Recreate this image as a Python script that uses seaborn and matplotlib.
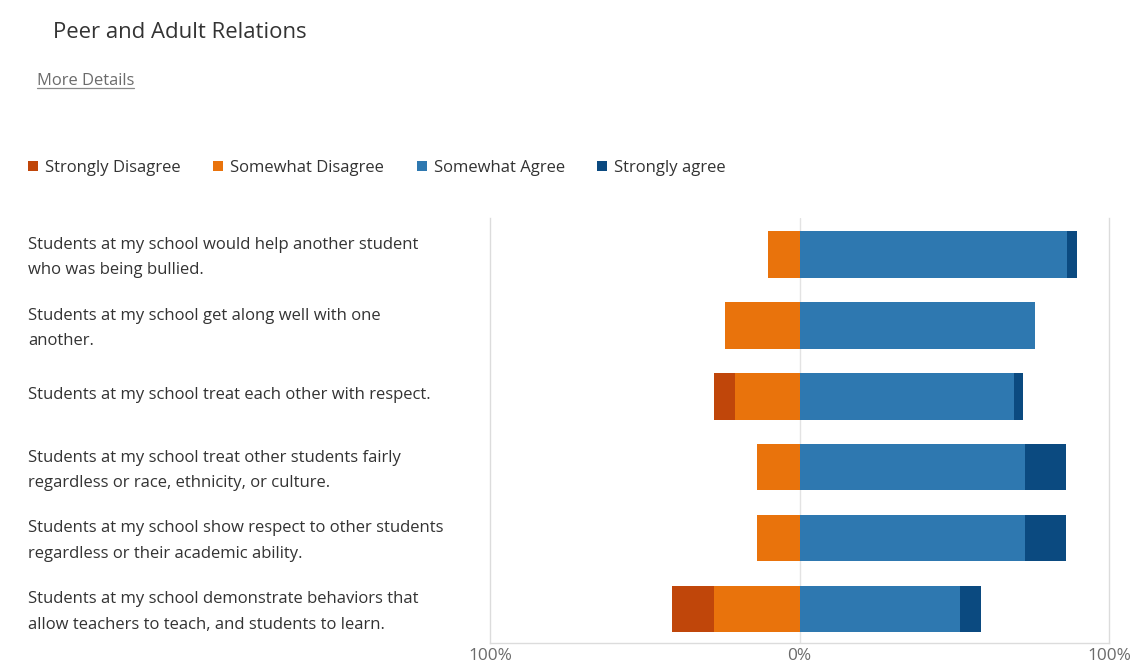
import matplotlib
matplotlib.use("Agg")
import matplotlib.pyplot as plt
import seaborn as sns
import pandas as pd
from matplotlib.patches import Patch
from matplotlib.lines import Line2D
from matplotlib.transforms import ScaledTranslation

# Survey statements (top to bottom)
statements = [
    "Students at my school would help another student\nwho was being bullied.",
    "Students at my school get along well with one\nanother.",
    "Students at my school treat each other with respect.",
    "Students at my school treat other students fairly\nregardless or race, ethnicity, or culture.",
    "Students at my school show respect to other students\nregardless or their academic ability.",
    "Students at my school demonstrate behaviors that\nallow teachers to teach, and students to learn.",
]

# Response shares in percent
strongly_disagree = [0, 0, 6.5, 0, 0, 13.6]
somewhat_disagree = [10.3, 24, 21, 13.7, 13.7, 27.7]
somewhat_agree = [86.5, 76, 69.2, 72.7, 72.7, 51.7]
strongly_agree = [3, 0, 3.1, 13.5, 13.5, 6.8]

series_names = ["Strongly Disagree", "Somewhat Disagree", "Somewhat Agree", "Strongly agree"]
series_colors = ["#C0460A", "#E9730C", "#2E78B0", "#0B4A80"]

x_ticks = [-100, 0, 100]
x_tick_labels = ["100%", "0%", "100%"]

sns.set_theme(style="white")
plt.rcParams["font.family"] = ["Open Sans", "DejaVu Sans"]

W, H = 1133, 664
fig = plt.figure(figsize=(W / 100, H / 100), dpi=100)
ax = fig.add_axes([490 / W, 21 / H, 619 / W, 425 / H])

df = pd.DataFrame({
    "statement": statements,
    "sd": strongly_disagree,
    "swd": somewhat_disagree,
    "swa": somewhat_agree,
    "sa": strongly_agree,
})
# Outer extents of each stacked segment, measured from zero
df["neg_outer"] = -(df["sd"] + df["swd"])
df["neg_inner"] = -df["swd"]
df["pos_outer"] = df["swa"] + df["sa"]
df["pos_inner"] = df["swa"]

ax.axvline(0, color="#e3e3e3", lw=1, zorder=0)

bar_kw = dict(y="statement", order=statements, orient="h", width=0.66,
              linewidth=0, ax=ax, zorder=2, saturation=1)
sns.barplot(data=df, x="neg_outer", color=series_colors[0], **bar_kw)
sns.barplot(data=df, x="neg_inner", color=series_colors[1], **bar_kw)
sns.barplot(data=df, x="pos_outer", color=series_colors[3], **bar_kw)
sns.barplot(data=df, x="pos_inner", color=series_colors[2], **bar_kw)

ax.set_xlim(-100, 100)
ax.set_ylim(5.48, -0.51)
ax.set_xlabel("")
ax.set_ylabel("")
ax.set_xticks(x_ticks)
ax.set_xticklabels(x_tick_labels, color="#6b6b6b", fontsize=12.4)
ax.tick_params(axis="x", length=0, pad=3.5)

ax.set_yticks(range(len(statements)))
ax.set_yticklabels(statements, ha="left", color="#333333", fontsize=12,
                   linespacing=1.8)
ax.tick_params(axis="y", length=0, pad=(490 - 28) * 72 / 100)
# Nudge statement labels up slightly
lift = ScaledTranslation(0, 3.5 / 100, fig.dpi_scale_trans)
for lab in ax.get_yticklabels():
    lab.set_transform(lab.get_transform() + lift)

for side in ["left", "right", "bottom"]:
    ax.spines[side].set_color("#dcdcdc")
    ax.spines[side].set_linewidth(1)
ax.spines["top"].set_visible(False)

# Header texts
fig.text(53 / W, 1 - 32 / H, "Peer and Adult Relations", fontsize=15.9,
         color="#333333", va="center", ha="left")
link = fig.text(37 / W, 1 - 81 / H, "More Details", fontsize=11.85,
                color="#6b6b6b", va="center", ha="left")
fig.canvas.draw()
bb = link.get_window_extent()
fig.add_artist(Line2D([bb.x0 / W, bb.x1 / W],
                      [(bb.y0 + 1) / H, (bb.y0 + 1) / H],
                      color="#8a8a8a", lw=0.9))

handles = [Patch(facecolor=c, edgecolor="none", label=n)
           for n, c in zip(series_names, series_colors)]
fig.legend(handles=handles, loc="center left", ncol=4,
           bbox_to_anchor=(13 / W, 1 - 168 / H), frameon=False,
           fontsize=12, handlelength=0.6, handleheight=0.6,
           handletextpad=0.42, columnspacing=1.95, labelcolor="#333333")

fig.savefig("out.png", dpi=100, facecolor="white")
